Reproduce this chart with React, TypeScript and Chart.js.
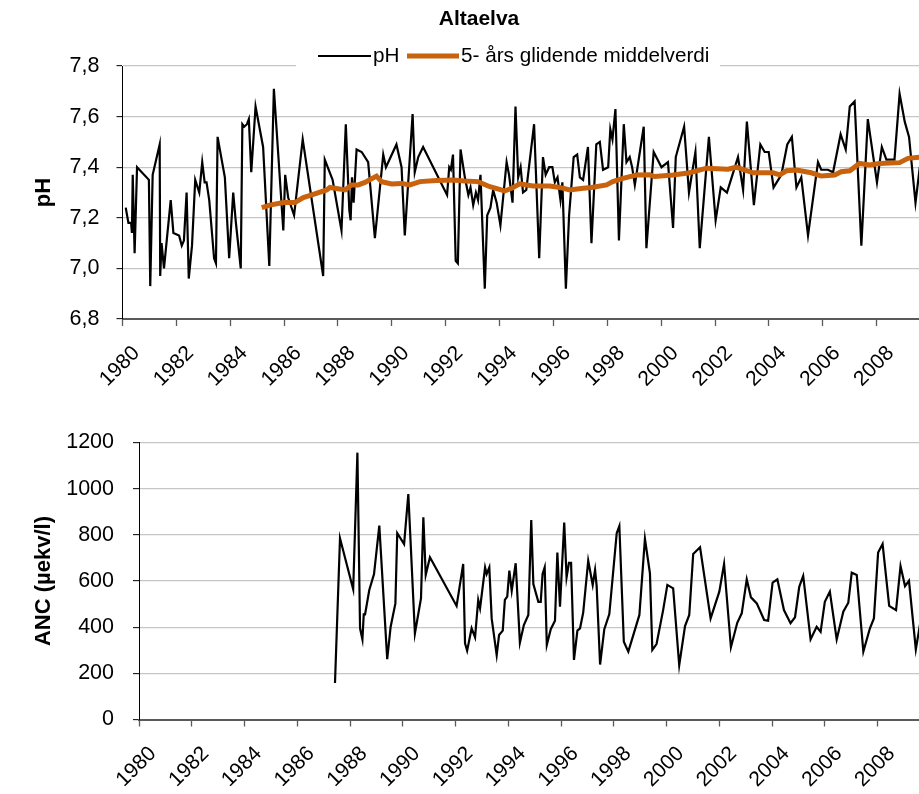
import React, { useEffect, useRef } from 'react';
import { Chart, registerables } from 'chart.js';

Chart.register(...registerables);

// ---------- data ----------
const chartTitle = 'Altaelva';
const phLabel = 'pH';
const maLabel = '5- års glidende middelverdi';
const ancAxisTitle = 'ANC (µekv/l)';

const xTickYears = [1980, 1982, 1984, 1986, 1988, 1990, 1992, 1994, 1996, 1998, 2000, 2002, 2004, 2006, 2008];
const xTickLabels = ['1980', '1982', '1984', '1986', '1988', '1990', '1992', '1994', '1996', '1998', '2000', '2002', '2004', '2006', '2008'];

const phTickValues = [6.8, 7.0, 7.2, 7.4, 7.6, 7.8];
const phTickLabels = ['6,8', '7,0', '7,2', '7,4', '7,6', '7,8'];
const ancTickValues = [0, 200, 400, 600, 800, 1000, 1200];
const ancTickLabels = ['0', '200', '400', '600', '800', '1000', '1200'];

const phYears = [
  1980.12, 1980.22, 1980.32, 1980.35, 1980.38, 1980.45, 1980.54, 1980.98, 1981.03, 1981.12,
  1981.38, 1981.40, 1981.45, 1981.54, 1981.66, 1981.79, 1981.89, 1982.10, 1982.20, 1982.28,
  1982.38, 1982.46, 1982.58, 1982.70, 1982.85, 1982.96, 1983.05, 1983.12, 1983.22, 1983.40,
  1983.47, 1983.53, 1983.80, 1983.96, 1984.11, 1984.21, 1984.39, 1984.45, 1984.52, 1984.62,
  1984.69, 1984.78, 1984.94, 1985.22, 1985.45, 1985.62, 1985.97, 1986.04, 1986.15, 1986.37,
  1986.69, 1987.45, 1987.51, 1987.80, 1988.13, 1988.29, 1988.42, 1988.47, 1988.52, 1988.58,
  1988.69, 1988.88, 1989.12, 1989.37, 1989.68, 1989.78, 1990.17, 1990.36, 1990.48, 1990.77,
  1990.85, 1990.98, 1991.16, 1992.05, 1992.13, 1992.19, 1992.27, 1992.37, 1992.45, 1992.55,
  1992.71, 1992.84, 1992.92, 1993.02, 1993.12, 1993.20, 1993.29, 1993.45, 1993.54, 1993.66,
  1993.76, 1993.89, 1994.03, 1994.26, 1994.35, 1994.48, 1994.59, 1994.69, 1994.78, 1994.87,
  1994.99, 1995.28, 1995.47, 1995.61, 1995.71, 1995.84, 1995.96, 1996.05, 1996.15, 1996.26,
  1996.33, 1996.46, 1996.58, 1996.75, 1996.88, 1996.98, 1997.10, 1997.28, 1997.41, 1997.59,
  1997.72, 1997.84, 1998.03, 1998.11, 1998.19, 1998.30, 1998.43, 1998.61, 1998.71, 1998.83,
  1998.92, 1999.02, 1999.35, 1999.45, 1999.72, 2000.01, 2000.25, 2000.44, 2000.54, 2000.85,
  2001.03, 2001.27, 2001.43, 2001.77, 2002.02, 2002.21, 2002.44, 2002.85, 2003.04, 2003.18,
  2003.44, 2003.68, 2003.84, 2003.99, 2004.17, 2004.46, 2004.68, 2004.85, 2005.02, 2005.20,
  2005.45, 2005.82, 2005.94, 2006.19, 2006.38, 2006.66, 2006.85, 2007.00, 2007.18, 2007.43,
  2007.67, 2008.01, 2008.19, 2008.36, 2008.48, 2008.66, 2008.85, 2009.04, 2009.20, 2009.44,
  2009.60,
];
const phValues = [
  7.24, 7.18, 7.18, 7.14, 7.37, 7.06, 7.40, 7.35, 6.93, 7.37,
  7.49, 6.97, 7.10, 7.00, 7.13, 7.27, 7.14, 7.13, 7.09, 7.11,
  7.30, 6.96, 7.09, 7.35, 7.30, 7.42, 7.34, 7.34, 7.27, 7.04,
  7.02, 7.52, 7.36, 7.04, 7.30, 7.18, 7.00, 7.57, 7.56, 7.57,
  7.59, 7.38, 7.64, 7.48, 7.01, 7.71, 7.15, 7.37, 7.28, 7.21,
  7.51, 6.97, 7.43, 7.35, 7.15, 7.57, 7.23, 7.19, 7.36, 7.26,
  7.47, 7.46, 7.42, 7.12, 7.45, 7.40, 7.49, 7.40, 7.13, 7.61,
  7.38, 7.44, 7.48, 7.29, 7.40, 7.39, 7.45, 7.03, 7.02, 7.47,
  7.36, 7.29, 7.32, 7.25, 7.30, 7.27, 7.37, 6.92, 7.21, 7.24,
  7.31, 7.26, 7.17, 7.42, 7.37, 7.26, 7.64, 7.36, 7.40, 7.30,
  7.31, 7.57, 7.04, 7.44, 7.37, 7.40, 7.40, 7.34, 7.36, 7.27,
  7.34, 6.92, 7.21, 7.44, 7.45, 7.36, 7.35, 7.48, 7.10, 7.49,
  7.50, 7.39, 7.40, 7.55, 7.51, 7.63, 7.11, 7.57, 7.42, 7.44,
  7.40, 7.33, 7.56, 7.08, 7.46, 7.40, 7.42, 7.16, 7.44, 7.56,
  7.30, 7.46, 7.08, 7.52, 7.19, 7.32, 7.30, 7.44, 7.31, 7.58,
  7.25, 7.49, 7.46, 7.46, 7.32, 7.37, 7.49, 7.52, 7.32, 7.36,
  7.13, 7.42, 7.39, 7.39, 7.38, 7.53, 7.47, 7.64, 7.66, 7.09,
  7.59, 7.34, 7.48, 7.43, 7.43, 7.43, 7.69, 7.58, 7.52, 7.26,
  7.40,
];

const maYears = [
  1985.17, 1985.47, 1985.97, 1986.40, 1986.71, 1987.00, 1987.58, 1987.70, 1988.27, 1988.50,
  1988.75, 1989.00, 1989.43, 1989.62, 1989.99, 1990.36, 1990.67, 1991.04, 1991.66, 1992.27,
  1992.70, 1993.20, 1993.64, 1994.19, 1994.45, 1994.75, 1995.24, 1995.86, 1996.23, 1996.60,
  1997.10, 1997.41, 1997.97, 1998.20, 1998.58, 1999.08, 1999.57, 1999.76, 2000.44, 2001.06,
  2001.68, 2002.48, 2002.78, 2003.41, 2004.15, 2004.40, 2004.65, 2005.02, 2005.57, 2005.94,
  2006.44, 2006.68, 2007.00, 2007.36, 2007.73, 2008.10, 2008.85, 2009.16, 2009.60,
];
const maValues = [
  7.24, 7.25, 7.26, 7.26, 7.28, 7.29, 7.31, 7.32, 7.31, 7.33,
  7.33, 7.34, 7.365, 7.343, 7.334, 7.336, 7.33, 7.343, 7.347, 7.349,
  7.345, 7.343, 7.323, 7.306, 7.317, 7.334, 7.326, 7.326, 7.32, 7.31,
  7.317, 7.32, 7.33, 7.343, 7.356, 7.369, 7.37, 7.363, 7.369, 7.378,
  7.396, 7.392, 7.40, 7.378, 7.378, 7.37, 7.386, 7.389, 7.378, 7.365,
  7.369, 7.382, 7.386, 7.415, 7.409, 7.415, 7.418, 7.435, 7.44,
];

const ancYears = [
  1987.43, 1987.62, 1988.12, 1988.28, 1988.38, 1988.47, 1988.52, 1988.57, 1988.73, 1988.91,
  1989.11, 1989.41, 1989.54, 1989.72, 1989.79, 1990.05, 1990.21, 1990.46, 1990.69, 1990.78,
  1990.87, 1991.03, 1992.04, 1992.29, 1992.36, 1992.44, 1992.61, 1992.74, 1992.86, 1992.93,
  1993.12, 1993.18, 1993.28, 1993.37, 1993.56, 1993.65, 1993.79, 1993.87, 1993.96, 1994.04,
  1994.13, 1994.28, 1994.44, 1994.59, 1994.76, 1994.87, 1994.95, 1995.14, 1995.23, 1995.30,
  1995.38, 1995.46, 1995.61, 1995.77, 1995.86, 1995.96, 1996.12, 1996.21, 1996.30, 1996.38,
  1996.49, 1996.62, 1996.72, 1996.84, 1997.03, 1997.20, 1997.29, 1997.35, 1997.48, 1997.64,
  1997.83, 1998.11, 1998.21, 1998.38, 1998.55, 1998.97, 1999.18, 1999.37, 1999.46, 1999.62,
  1999.87, 2000.03, 2000.25, 2000.48, 2000.70, 2000.86, 2001.01, 2001.27, 2001.67, 2002.00,
  2002.18, 2002.44, 2002.68, 2002.85, 2003.04, 2003.20, 2003.42, 2003.70, 2003.85, 2004.02,
  2004.20, 2004.45, 2004.70, 2004.87, 2005.03, 2005.18, 2005.46, 2005.69, 2005.84, 2006.00,
  2006.19, 2006.45, 2006.70, 2006.89, 2007.02, 2007.21, 2007.46, 2007.71, 2007.86, 2008.02,
  2008.19, 2008.44, 2008.70, 2008.87, 2009.04, 2009.19, 2009.45, 2009.62,
];
const ancValues = [
  158, 785, 564, 1156, 395, 347, 455, 455, 561, 630,
  840, 261, 402, 503, 807, 760, 977, 373, 525, 876,
  626, 703, 492, 674, 330, 298, 395, 356, 518, 482,
  659, 630, 659, 438, 279, 366, 385, 518, 532, 645,
  558, 677, 333, 409, 453, 864, 587, 510, 510, 630,
  659, 323, 391, 428, 723, 489, 853, 616, 679, 679,
  258, 385, 395, 463, 688, 583, 648, 578, 238, 391,
  457, 807, 838, 337, 294, 453, 783, 633, 301, 327,
  474, 583, 568, 235, 405, 453, 717, 746, 438, 554,
  674, 313, 419, 460, 607, 529, 503, 431, 428, 593,
  607, 474, 417, 443, 575, 622, 347, 402, 380, 510,
  554, 347, 467, 506, 636, 626, 294, 395, 438, 723,
  760, 492, 474, 665, 578, 601, 304, 420,
];

// ---------- styling ----------
const FONT = "'Liberation Sans', Arial, sans-serif";
const ORANGE = '#c8620c';
const GRID = '#c6c6c6';
const AXIS_GRAY = '#5a5a5a';
const X_MIN = 1980;
const X_MAX = 2009.57;

const W = 919;
const TOP_H = 400;
const BOT_H = 394;

function pts(xs: number[], ys: number[]) {
  return xs.map((x, i) => ({ x, y: ys[i] }));
}

function xScale(height: number) {
  return {
    type: 'linear',
    min: X_MIN,
    max: X_MAX,
    afterBuildTicks: (s: any) => {
      s.ticks = xTickYears.map((v) => ({ value: v }));
    },
    ticks: {
      autoSkip: false,
      maxRotation: 45,
      minRotation: 45,
      padding: 15,
      labelOffset: 14,
      color: '#000',
      font: { family: FONT, size: 21 },
      callback: (_v: any, i: number) => xTickLabels[i],
    },
    grid: {
      drawOnChartArea: false,
      drawTicks: true,
      tickLength: 7,
      tickColor: AXIS_GRAY,
      tickWidth: 1.3,
    },
    border: { display: true, color: AXIS_GRAY, width: 2 },
    afterFit: (s: any) => {
      s.height = height;
    },
  };
}

function yScale(opts: {
  min: number; max: number; values: number[]; labels: string[]; width: number;
  title: string; titlePad: number; labelPad: number;
}) {
  return {
    type: 'linear',
    min: opts.min,
    max: opts.max,
    afterBuildTicks: (s: any) => {
      s.ticks = opts.values.map((v) => ({ value: v }));
    },
    ticks: {
      padding: opts.labelPad,
      color: '#000',
      font: { family: FONT, size: 21.5 },
      callback: (_v: any, i: number) => opts.labels[i],
    },
    grid: {
      color: GRID,
      lineWidth: 1.3,
      drawTicks: true,
      tickLength: 6,
      tickColor: '#000',
      tickWidth: 1,
    },
    border: { display: true, color: '#000', width: 1 },
    title: {
      display: true,
      text: opts.title,
      color: '#000',
      font: { family: FONT, size: 22, weight: 'bold' },
      padding: { top: opts.titlePad, bottom: 0 },
    },
    afterFit: (s: any) => {
      s.width = opts.width;
    },
  };
}

const headerPlugin = {
  id: 'header',
  afterDraw(chart: any) {
    const ctx = chart.ctx;
    ctx.save();
    // legend background covering the top gridline
    ctx.fillStyle = '#fff';
    ctx.fillRect(296, 42, 424, 26);
    // title
    ctx.fillStyle = '#000';
    ctx.font = `bold 21px ${FONT}`;
    ctx.textAlign = 'center';
    ctx.textBaseline = 'middle';
    ctx.fillText(chartTitle, 479, 19);
    // legend
    ctx.font = `20.7px ${FONT}`;
    ctx.textAlign = 'left';
    ctx.lineCap = 'butt';
    ctx.strokeStyle = '#000';
    ctx.lineWidth = 2.2;
    ctx.beginPath();
    ctx.moveTo(318, 56);
    ctx.lineTo(371, 56);
    ctx.stroke();
    ctx.fillText(phLabel, 373, 56);
    ctx.strokeStyle = ORANGE;
    ctx.lineWidth = 5;
    ctx.beginPath();
    ctx.moveTo(407, 56);
    ctx.lineTo(459, 56);
    ctx.stroke();
    ctx.fillStyle = '#000';
    ctx.fillText(maLabel, 461, 56);
    ctx.restore();
  },
};

export default function App() {
  const topRef = useRef<HTMLCanvasElement>(null);
  const botRef = useRef<HTMLCanvasElement>(null);

  useEffect(() => {
    const top = new Chart(topRef.current as HTMLCanvasElement, {
      type: 'line',
      data: {
        datasets: [
          {
            label: phLabel,
            data: pts(phYears, phValues),
            borderColor: '#000',
            backgroundColor: '#000',
            borderWidth: 2.2,
            pointRadius: 0,
            tension: 0,
            order: 2,
          },
          {
            label: maLabel,
            data: pts(maYears, maValues),
            borderColor: ORANGE,
            backgroundColor: ORANGE,
            borderWidth: 5,
            pointRadius: 0,
            tension: 0,
            order: 1,
          },
        ],
      },
      options: {
        responsive: false,
        animation: false,
        parsing: false,
        layout: { padding: { top: 66, left: 0, right: 0, bottom: 0 } },
        plugins: { legend: { display: false }, title: { display: false }, tooltip: { enabled: false } },
        scales: {
          x: xScale(TOP_H - 319) as any,
          y: yScale({
            min: 6.8, max: 7.8, values: phTickValues, labels: phTickLabels, width: 122.5,
            title: 'pH', titlePad: 31, labelPad: 17,
          }) as any,
        },
      },
      plugins: [headerPlugin],
    } as any);

    const bot = new Chart(botRef.current as HTMLCanvasElement, {
      type: 'line',
      data: {
        datasets: [
          {
            label: 'ANC',
            data: pts(ancYears, ancValues),
            borderColor: '#000',
            backgroundColor: '#000',
            borderWidth: 2.2,
            pointRadius: 0,
            tension: 0,
          },
        ],
      },
      options: {
        responsive: false,
        animation: false,
        parsing: false,
        layout: { padding: { top: 42.5, left: 0, right: 0, bottom: 0 } },
        plugins: { legend: { display: false }, title: { display: false }, tooltip: { enabled: false } },
        scales: {
          x: xScale(BOT_H - 319.5) as any,
          y: yScale({
            min: 0, max: 1200, values: ancTickValues, labels: ancTickLabels, width: 139,
            title: ancAxisTitle, titlePad: 31, labelPad: 19,
          }) as any,
        },
      },
    } as any);

    return () => {
      top.destroy();
      bot.destroy();
    };
  }, []);

  return (
    <div style={{ position: 'absolute', left: 0, top: 0, width: W, height: TOP_H + BOT_H, background: '#fff' }}>
      <canvas ref={topRef} width={W} height={TOP_H} style={{ position: 'absolute', left: 0, top: 0, width: W, height: TOP_H }} />
      <canvas ref={botRef} width={W} height={BOT_H} style={{ position: 'absolute', left: 0, top: TOP_H, width: W, height: BOT_H }} />
    </div>
  );
}
